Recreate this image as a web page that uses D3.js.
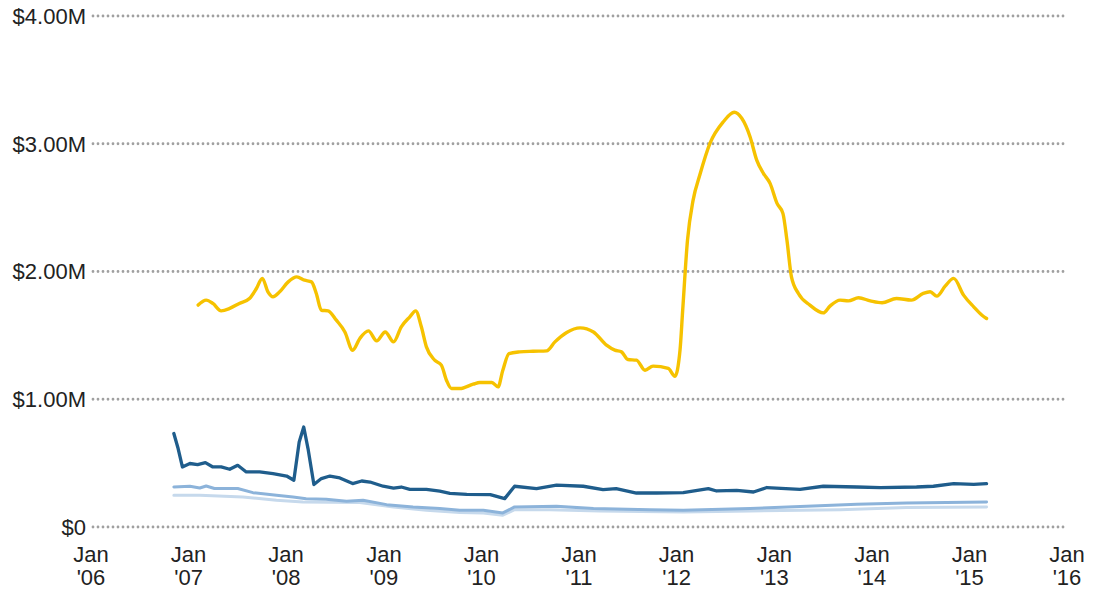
<!DOCTYPE html>
<html>
<head>
<meta charset="utf-8">
<script src="https://cdn.jsdelivr.net/npm/d3@7"></script>
<style>
  html, body { margin: 0; padding: 0; background: #fff; }
  svg { display: block; font-family: Arial, "Liberation Sans", sans-serif; }
</style>
</head>
<body>
<script>
// values in $M
const yellowDates = ["2007-02-06","2007-03-08","2007-04-02","2007-05-03","2007-06-04","2007-07-10","2007-08-17","2007-09-12","2007-10-04","2007-10-25","2007-11-13","2007-12-08","2008-01-09","2008-02-10","2008-03-10","2008-04-05","2008-04-23","2008-05-12","2008-06-06","2008-07-07","2008-08-08","2008-09-06","2008-10-03","2008-11-04","2008-12-05","2009-01-06","2009-02-06","2009-03-07","2009-04-08","2009-04-30","2009-05-21","2009-06-09","2009-07-10","2009-08-04","2009-08-23","2009-09-11","2009-10-12","2009-12-01","2009-12-26","2010-02-09","2010-03-04","2010-03-22","2010-04-14","2010-05-24","2010-07-13","2010-09-02","2010-10-03","2010-11-16","2011-01-05","2011-02-24","2011-04-14","2011-05-15","2011-06-09","2011-07-03","2011-08-04","2011-09-05","2011-10-05","2011-12-01","2011-12-26","2012-01-14","2012-01-24","2012-02-11","2012-03-03","2012-03-28","2012-05-05","2012-06-24","2012-08-04","2012-09-01","2012-10-02","2012-10-27","2012-11-21","2012-12-16","2013-01-11","2013-02-02","2013-02-17","2013-03-06","2013-04-01","2013-05-14","2013-07-03","2013-07-28","2013-09-04","2013-10-05","2013-11-12","2013-12-26","2014-02-08","2014-04-03","2014-05-29","2014-07-12","2014-08-07","2014-09-01","2014-10-02","2014-11-03","2014-12-10","2015-01-17","2015-02-17","2015-03-06"];
const yellowValues = [1.737,1.776,1.750,1.692,1.711,1.750,1.789,1.867,1.946,1.841,1.802,1.841,1.919,1.958,1.932,1.919,1.828,1.697,1.692,1.619,1.527,1.384,1.476,1.535,1.457,1.527,1.449,1.567,1.645,1.692,1.567,1.410,1.306,1.267,1.149,1.084,1.084,1.118,1.131,1.131,1.097,1.227,1.358,1.371,1.376,1.379,1.449,1.523,1.559,1.527,1.423,1.384,1.371,1.311,1.306,1.227,1.259,1.241,1.180,1.384,1.697,2.246,2.559,2.755,3.003,3.172,3.246,3.199,3.055,2.872,2.768,2.690,2.533,2.455,2.246,1.958,1.828,1.737,1.676,1.729,1.776,1.770,1.794,1.770,1.755,1.789,1.776,1.828,1.841,1.807,1.885,1.946,1.815,1.723,1.658,1.632];

const darkDates = ["2006-11-07","2006-11-23","2006-12-09","2007-01-06","2007-02-04","2007-03-05","2007-04-02","2007-05-03","2007-06-04","2007-07-04","2007-08-05","2007-09-24","2007-11-13","2008-01-03","2008-01-30","2008-02-19","2008-03-07","2008-03-23","2008-04-14","2008-05-12","2008-06-13","2008-07-20","2008-09-06","2008-10-10","2008-11-10","2008-12-29","2009-02-06","2009-03-07","2009-04-08","2009-06-09","2009-07-29","2009-09-05","2009-11-07","2010-02-03","2010-03-29","2010-05-05","2010-07-26","2010-10-09","2011-01-17","2011-04-01","2011-05-20","2011-08-04","2011-10-18","2012-01-26","2012-04-29","2012-05-30","2012-08-13","2012-10-15","2012-12-04","2013-04-07","2013-07-03","2013-11-06","2014-02-02","2014-06-17","2014-08-19","2014-11-03","2015-01-17","2015-03-06"];
const darkValues = [0.732,0.614,0.470,0.497,0.489,0.504,0.470,0.470,0.452,0.483,0.431,0.431,0.418,0.399,0.366,0.666,0.783,0.614,0.332,0.379,0.399,0.384,0.340,0.360,0.352,0.319,0.305,0.313,0.295,0.295,0.280,0.264,0.256,0.254,0.222,0.319,0.301,0.327,0.319,0.293,0.301,0.266,0.266,0.269,0.301,0.282,0.287,0.274,0.309,0.295,0.319,0.313,0.309,0.313,0.319,0.340,0.334,0.340];

const midDates = ["2006-11-07","2007-01-06","2007-02-12","2007-03-08","2007-04-08","2007-07-04","2007-08-30","2007-11-26","2008-01-27","2008-03-16","2008-05-30","2008-08-14","2008-10-15","2009-01-11","2009-04-20","2009-07-29","2009-10-12","2010-01-08","2010-03-22","2010-05-05","2010-10-09","2011-02-24","2011-09-23","2012-01-26","2012-10-02","2013-05-02","2013-11-06","2014-05-11","2015-03-06"];
const midValues = [0.313,0.319,0.305,0.321,0.301,0.301,0.269,0.248,0.235,0.222,0.217,0.201,0.209,0.175,0.157,0.144,0.131,0.131,0.110,0.157,0.162,0.144,0.136,0.131,0.144,0.162,0.178,0.188,0.196];

const lightDates = ["2006-11-07","2007-02-12","2007-07-23","2007-11-26","2008-03-04","2008-10-03","2009-02-06","2009-06-09","2009-10-12","2010-01-08","2010-03-22","2010-05-05","2010-09-14","2011-03-19","2012-01-26","2012-10-02","2013-09-04","2014-05-11","2015-03-06"];
const lightValues = [0.248,0.248,0.235,0.209,0.196,0.191,0.157,0.131,0.113,0.110,0.092,0.136,0.136,0.125,0.117,0.125,0.136,0.152,0.157];

const yTicks = [0, 1, 2, 3, 4];
const yTickLabels = ["$0", "$1.00M", "$2.00M", "$3.00M", "$4.00M"];
const xTickYears = [2006, 2007, 2008, 2009, 2010, 2011, 2012, 2013, 2014, 2015, 2016];

const WIDTH = 1099, HEIGHT = 589;
const parse = d3.timeParse("%Y-%m-%d");
const zip = (ds, vs) => ds.map((d, i) => ({ date: parse(d), value: vs[i] }));

const x = d3.scaleTime()
  .domain([new Date(2006, 0, 1), new Date(2016, 0, 1)])
  .range([91, 1067]);
const y = d3.scaleLinear().domain([0, 4]).range([527, 16]);

const svg = d3.select("body").append("svg")
  .attr("width", WIDTH)
  .attr("height", HEIGHT);

// ---- grid + y labels ----
const grid = svg.append("g");
grid.selectAll("line")
  .data(yTicks)
  .join("line")
  .attr("x1", x.range()[0] + 2)
  .attr("x2", x.range()[1])
  .attr("y1", d => y(d))
  .attr("y2", d => y(d))
  .attr("stroke", "#a0a0a0")
  .attr("stroke-width", 2.8)
  .attr("stroke-linecap", "round")
  .attr("stroke-dasharray", "0,5");

grid.selectAll("text")
  .data(yTicks)
  .join("text")
  .attr("x", 86)
  .attr("y", d => y(d))
  .attr("dy", "0.36em")
  .attr("text-anchor", "end")
  .attr("font-size", 22)
  .attr("fill", "#222")
  .text((d, i) => yTickLabels[i]);

// ---- x labels ----
const xl = svg.append("g")
  .selectAll("g")
  .data(xTickYears)
  .join("g")
  .attr("transform", d => `translate(${x(new Date(d, 0, 1))},0)`);
xl.append("text")
  .attr("y", 562)
  .attr("text-anchor", "middle")
  .attr("font-size", 22)
  .attr("fill", "#222")
  .text("Jan");
xl.append("text")
  .attr("y", 585)
  .attr("text-anchor", "middle")
  .attr("font-size", 22)
  .attr("fill", "#222")
  .text(d => "'" + String(d).slice(2));

// ---- lines ----
const lineStraight = d3.line().x(d => x(d.date)).y(d => y(d.value));
const lineSmooth = d3.line().curve(d3.curveMonotoneX).x(d => x(d.date)).y(d => y(d.value));

const series = [
  { data: zip(lightDates, lightValues), color: "#c6d9ec", width: 3, gen: lineStraight },
  { data: zip(midDates, midValues), color: "#8cb3da", width: 3, gen: lineStraight },
  { data: zip(darkDates, darkValues), color: "#1f5d8c", width: 3.3, gen: lineStraight },
  { data: zip(yellowDates, yellowValues), color: "#f6c200", width: 3.4, gen: lineSmooth }
];

svg.append("g")
  .selectAll("path")
  .data(series)
  .join("path")
  .attr("fill", "none")
  .attr("stroke", d => d.color)
  .attr("stroke-width", d => d.width)
  .attr("stroke-linejoin", "round")
  .attr("stroke-linecap", "round")
  .attr("d", d => d.gen(d.data));
</script>
</body>
</html>
